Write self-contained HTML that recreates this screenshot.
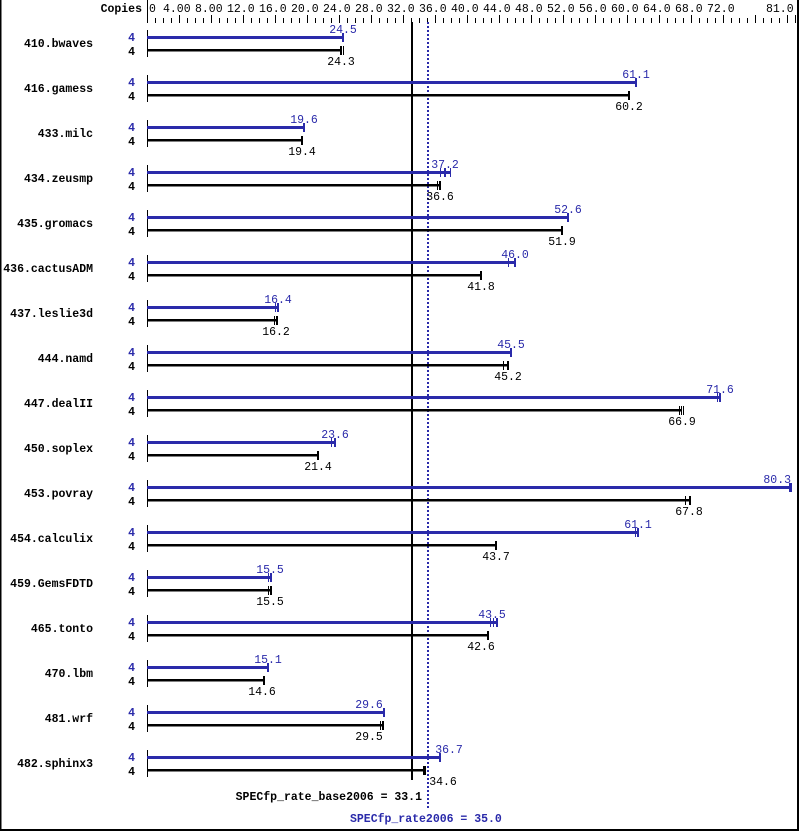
<!DOCTYPE html>
<html><head><meta charset="utf-8"><style>
html,body{margin:0;padding:0;background:#fff}
svg{display:block}
text{font-family:"Liberation Mono","DejaVu Sans Mono",monospace;font-size:11.5px}
.n{font-weight:bold;text-anchor:end}
.c{font-weight:bold;text-anchor:end}
.b{fill:#2a2aaa}
.m{text-anchor:middle}
</style></head><body>
<svg width="799" height="831" viewBox="0 0 799 831" xmlns="http://www.w3.org/2000/svg">
<defs>
<pattern id="mt" x="147" y="0" width="8" height="831" patternUnits="userSpaceOnUse"><rect x="0" y="18" width="1" height="5" fill="#000"/></pattern>
<pattern id="Mt" x="147" y="0" width="32" height="831" patternUnits="userSpaceOnUse"><rect x="0" y="15" width="1" height="8" fill="#000"/></pattern>
</defs>
<rect x="0" y="0" width="799" height="831" fill="#fff"/>
<rect x="0" y="0" width="1.5" height="831" fill="#000"/>
<rect x="797" y="0" width="2" height="831" fill="#000"/>
<rect x="0" y="829" width="799" height="2" fill="#000"/>
<rect x="147" y="0" width="1" height="23" fill="#000"/>
<rect x="147" y="0" width="650" height="24" fill="url(#mt)"/>
<rect x="147" y="0" width="650" height="24" fill="url(#Mt)"/>
<rect x="795" y="15" width="1" height="8" fill="#000"/>
<text x="142" y="12" class="c">Copies</text>
<g>
<text x="149" y="12">0</text><text x="163" y="12">4.00</text><text x="195" y="12">8.00</text><text x="227" y="12">12.0</text><text x="259" y="12">16.0</text><text x="291" y="12">20.0</text><text x="323" y="12">24.0</text><text x="355" y="12">28.0</text><text x="387" y="12">32.0</text><text x="419" y="12">36.0</text><text x="451" y="12">40.0</text><text x="483" y="12">44.0</text><text x="515" y="12">48.0</text><text x="547" y="12">52.0</text><text x="579" y="12">56.0</text><text x="611" y="12">60.0</text><text x="643" y="12">64.0</text><text x="675" y="12">68.0</text><text x="707" y="12">72.0</text><text x="766" y="12">81.0</text>
</g>
<rect x="411" y="22" width="2" height="758" fill="#000"/>
<line x1="428" y1="22" x2="428" y2="808" stroke="#2a2aaa" stroke-width="2" stroke-dasharray="2,2"/>
<g id="rows">
<!-- rows -->
<g>
<text x="93" y="47" class="n">410.bwaves</text><text x="135" y="41" class="c b">4</text><text x="135" y="55" class="c">4</text>
<rect x="147" y="30" width="1" height="27"/>
<rect x="147" y="36" width="196" height="3" fill="#2a2aaa"/><rect x="342" y="33" width="2" height="9" fill="#2a2aaa"/>
<rect x="147" y="49" width="194" height="2.5"/><rect x="340" y="46" width="2" height="9"/><rect x="343" y="46" width="1" height="9"/>
<text x="343" y="33" class="m b">24.5</text><text x="341" y="65" class="m">24.3</text>
</g>
<g>
<text x="93" y="92" class="n">416.gamess</text><text x="135" y="86" class="c b">4</text><text x="135" y="100" class="c">4</text>
<rect x="147" y="75" width="1" height="27"/>
<rect x="147" y="81" width="489" height="3" fill="#2a2aaa"/><rect x="635" y="78" width="2" height="9" fill="#2a2aaa"/>
<rect x="147" y="94" width="482" height="2.5"/><rect x="628" y="91" width="2" height="9"/>
<text x="636" y="78" class="m b">61.1</text><text x="629" y="110" class="m">60.2</text>
</g>
<g>
<text x="93" y="137" class="n">433.milc</text><text x="135" y="131" class="c b">4</text><text x="135" y="145" class="c">4</text>
<rect x="147" y="120" width="1" height="27"/>
<rect x="147" y="126" width="157" height="3" fill="#2a2aaa"/><rect x="303" y="123" width="2" height="9" fill="#2a2aaa"/>
<rect x="147" y="139" width="155" height="2.5"/><rect x="301" y="136" width="2" height="9"/>
<text x="304" y="123" class="m b">19.6</text><text x="302" y="155" class="m">19.4</text>
</g>
<g>
<text x="93" y="182" class="n">434.zeusmp</text><text x="135" y="176" class="c b">4</text><text x="135" y="190" class="c">4</text>
<rect x="147" y="165" width="1" height="27"/>
<rect x="147" y="171" width="304" height="3" fill="#2a2aaa"/><rect x="440" y="168" width="1" height="9" fill="#2a2aaa"/><rect x="444" y="168" width="2" height="9" fill="#2a2aaa"/><rect x="450" y="168" width="1" height="9" fill="#2a2aaa"/>
<rect x="147" y="184" width="293" height="2.5"/><rect x="437" y="181" width="1" height="9"/><rect x="439" y="181" width="2" height="9"/>
<text x="445" y="168" class="m b">37.2</text><text x="440" y="200" class="m">36.6</text>
</g>
<g>
<text x="93" y="227" class="n">435.gromacs</text><text x="135" y="221" class="c b">4</text><text x="135" y="235" class="c">4</text>
<rect x="147" y="210" width="1" height="27"/>
<rect x="147" y="216" width="421" height="3" fill="#2a2aaa"/><rect x="567" y="213" width="2" height="9" fill="#2a2aaa"/>
<rect x="147" y="229" width="415" height="2.5"/><rect x="561" y="226" width="2" height="9"/>
<text x="568" y="213" class="m b">52.6</text><text x="562" y="245" class="m">51.9</text>
</g>
<g>
<text x="93" y="272" class="n">436.cactusADM</text><text x="135" y="266" class="c b">4</text><text x="135" y="280" class="c">4</text>
<rect x="147" y="255" width="1" height="27"/>
<rect x="147" y="261" width="368" height="3" fill="#2a2aaa"/><rect x="508" y="258" width="1" height="9" fill="#2a2aaa"/><rect x="514" y="258" width="2" height="9" fill="#2a2aaa"/>
<rect x="147" y="274" width="334" height="2.5"/><rect x="480" y="271" width="2" height="9"/>
<text x="515" y="258" class="m b">46.0</text><text x="481" y="290" class="m">41.8</text>
</g>
<g>
<text x="93" y="317" class="n">437.leslie3d</text><text x="135" y="311" class="c b">4</text><text x="135" y="325" class="c">4</text>
<rect x="147" y="300" width="1" height="27"/>
<rect x="147" y="306" width="131" height="3" fill="#2a2aaa"/><rect x="275" y="303" width="1" height="9" fill="#2a2aaa"/><rect x="277" y="303" width="2" height="9" fill="#2a2aaa"/>
<rect x="147" y="319" width="130" height="2.5"/><rect x="274" y="316" width="1" height="9"/><rect x="276" y="316" width="2" height="9"/>
<text x="278" y="303" class="m b">16.4</text><text x="276" y="335" class="m">16.2</text>
</g>
<g>
<text x="93" y="362" class="n">444.namd</text><text x="135" y="356" class="c b">4</text><text x="135" y="370" class="c">4</text>
<rect x="147" y="345" width="1" height="27"/>
<rect x="147" y="351" width="364" height="3" fill="#2a2aaa"/><rect x="510" y="348" width="2" height="9" fill="#2a2aaa"/>
<rect x="147" y="364" width="361" height="2.5"/><rect x="503" y="361" width="1" height="9"/><rect x="507" y="361" width="2" height="9"/>
<text x="511" y="348" class="m b">45.5</text><text x="508" y="380" class="m">45.2</text>
</g>
<g>
<text x="93" y="407" class="n">447.dealII</text><text x="135" y="401" class="c b">4</text><text x="135" y="415" class="c">4</text>
<rect x="147" y="390" width="1" height="27"/>
<rect x="147" y="396" width="573" height="3" fill="#2a2aaa"/><rect x="717" y="393" width="1" height="9" fill="#2a2aaa"/><rect x="719" y="393" width="2" height="9" fill="#2a2aaa"/>
<rect x="147" y="409" width="535" height="2.5"/><rect x="679" y="406" width="1" height="9"/><rect x="681" y="406" width="1" height="9"/><rect x="683" y="406" width="1" height="9"/>
<text x="720" y="393" class="m b">71.6</text><text x="682" y="425" class="m">66.9</text>
</g>
<g>
<text x="93" y="452" class="n">450.soplex</text><text x="135" y="446" class="c b">4</text><text x="135" y="460" class="c">4</text>
<rect x="147" y="435" width="1" height="27"/>
<rect x="147" y="441" width="188" height="3" fill="#2a2aaa"/><rect x="331" y="438" width="1" height="9" fill="#2a2aaa"/><rect x="334" y="438" width="2" height="9" fill="#2a2aaa"/>
<rect x="147" y="454" width="171" height="2.5"/><rect x="317" y="451" width="2" height="9"/>
<text x="335" y="438" class="m b">23.6</text><text x="318" y="470" class="m">21.4</text>
</g>
<g>
<text x="93" y="497" class="n">453.povray</text><text x="135" y="491" class="c b">4</text><text x="135" y="505" class="c">4</text>
<rect x="147" y="480" width="1" height="27"/>
<rect x="147" y="486" width="643" height="3" fill="#2a2aaa"/><rect x="789" y="483" width="3" height="9" fill="#2a2aaa"/>
<rect x="147" y="499" width="542" height="2.5"/><rect x="685" y="496" width="1" height="9"/><rect x="689" y="496" width="2" height="9"/>
<text x="791" y="483" class="b" text-anchor="end">80.3</text><text x="689" y="515" class="m">67.8</text>
</g>
<g>
<text x="93" y="542" class="n">454.calculix</text><text x="135" y="536" class="c b">4</text><text x="135" y="550" class="c">4</text>
<rect x="147" y="525" width="1" height="27"/>
<rect x="147" y="531" width="491" height="3" fill="#2a2aaa"/><rect x="635" y="528" width="1" height="9" fill="#2a2aaa"/><rect x="637" y="528" width="2" height="9" fill="#2a2aaa"/>
<rect x="147" y="544" width="349" height="2.5"/><rect x="495" y="541" width="2" height="9"/>
<text x="638" y="528" class="m b">61.1</text><text x="496" y="560" class="m">43.7</text>
</g>
<g>
<text x="93" y="587" class="n">459.GemsFDTD</text><text x="135" y="581" class="c b">4</text><text x="135" y="595" class="c">4</text>
<rect x="147" y="570" width="1" height="27"/>
<rect x="147" y="576" width="124" height="3" fill="#2a2aaa"/><rect x="268" y="573" width="1" height="9" fill="#2a2aaa"/><rect x="270" y="573" width="2" height="9" fill="#2a2aaa"/>
<rect x="147" y="589" width="124" height="2.5"/><rect x="268" y="586" width="1" height="9"/><rect x="270" y="586" width="2" height="9"/>
<text x="270" y="573" class="m b">15.5</text><text x="270" y="605" class="m">15.5</text>
</g>
<g>
<text x="93" y="632" class="n">465.tonto</text><text x="135" y="626" class="c b">4</text><text x="135" y="640" class="c">4</text>
<rect x="147" y="615" width="1" height="27"/>
<rect x="147" y="621" width="351" height="3" fill="#2a2aaa"/><rect x="490" y="618" width="1" height="9" fill="#2a2aaa"/><rect x="493" y="618" width="1" height="9" fill="#2a2aaa"/><rect x="496" y="618" width="2" height="9" fill="#2a2aaa"/>
<rect x="147" y="634" width="341" height="2.5"/><rect x="487" y="631" width="2" height="9"/>
<text x="492" y="618" class="m b">43.5</text><text x="481" y="650" class="m">42.6</text>
</g>
<g>
<text x="93" y="677" class="n">470.lbm</text><text x="135" y="671" class="c b">4</text><text x="135" y="685" class="c">4</text>
<rect x="147" y="660" width="1" height="27"/>
<rect x="147" y="666" width="121" height="3" fill="#2a2aaa"/><rect x="267" y="663" width="2" height="9" fill="#2a2aaa"/>
<rect x="147" y="679" width="117" height="2.5"/><rect x="263" y="676" width="2" height="9"/>
<text x="268" y="663" class="m b">15.1</text><text x="262" y="695" class="m">14.6</text>
</g>
<g>
<text x="93" y="722" class="n">481.wrf</text><text x="135" y="716" class="c b">4</text><text x="135" y="730" class="c">4</text>
<rect x="147" y="705" width="1" height="27"/>
<rect x="147" y="711" width="237" height="3" fill="#2a2aaa"/><rect x="383" y="708" width="2" height="9" fill="#2a2aaa"/>
<rect x="147" y="724" width="236" height="2.5"/><rect x="380" y="721" width="1" height="9"/><rect x="382" y="721" width="2" height="9"/>
<text x="369" y="708" class="m b">29.6</text><text x="369" y="740" class="m">29.5</text>
</g>
<g>
<text x="93" y="767" class="n">482.sphinx3</text><text x="135" y="761" class="c b">4</text><text x="135" y="775" class="c">4</text>
<rect x="147" y="750" width="1" height="27"/>
<rect x="147" y="756" width="293" height="3" fill="#2a2aaa"/><rect x="439" y="753" width="2" height="9" fill="#2a2aaa"/>
<rect x="147" y="769" width="277" height="2.5"/><rect x="423" y="766" width="3" height="9"/>
<text x="449" y="753" class="m b">36.7</text><text x="443" y="785" class="m">34.6</text>
</g>
</g>
<text x="422" y="800" font-weight="bold" text-anchor="end">SPECfp_rate_base2006 = 33.1</text>
<text x="350" y="822" font-weight="bold" class="b">SPECfp_rate2006 = 35.0</text>
</svg>
</body></html>
